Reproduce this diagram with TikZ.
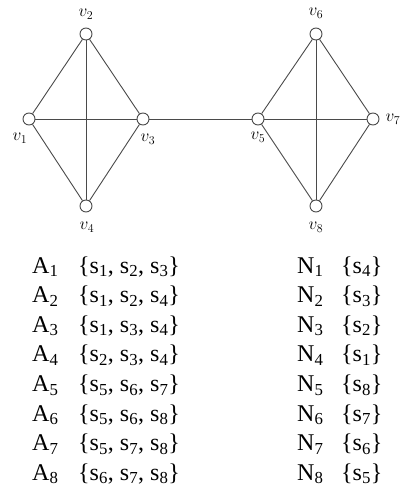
\documentclass[tikz,border=0pt]{standalone}
\usepackage{fontspec}
\setmainfont{Liberation Serif}
\usetikzlibrary{positioning}
\definecolor{edgegray}{HTML}{4A4A4A}

\tikzset{
  vert/.style={circle, draw=edgegray, fill=white, line width=0.9pt, minimum size=12pt, inner sep=0pt},
  vlabel/.style={font=\fontsize{18}{21}\selectfont, inner sep=0pt},
  edge/.style={draw=edgegray, line width=0.9pt},
  rowtext/.style={font=\fontsize{24}{29}\selectfont, anchor=base west, inner sep=0pt},
}

\begin{document}
\begin{tikzpicture}[x=1pt, y=-1pt]
\useasboundingbox (0,0) rectangle (400,497);
% first block
\node[vert] (v1) at (29,119) {};
\node[vert] (v2) at (86,34) {};
\node[vert] (v3) at (143,119) {};
\node[vert] (v4) at (86,206) {};
% second block
\node[vert] (v5) at (258,119) {};
\node[vert] (v6) at (316,34) {};
\node[vert] (v7) at (373,119) {};
\node[vert] (v8) at (316,206) {};
\draw[edge] (v1) -- (v2);
\draw[edge] (v2) -- (v3);
\draw[edge] (v3) -- (v4);
\draw[edge] (v4) -- (v1);
\draw[edge] (v1) -- (v3);
\draw[edge] (v2) -- (v4);
\draw[edge] (v3) -- (v5);
\draw[edge] (v5) -- (v6);
\draw[edge] (v6) -- (v7);
\draw[edge] (v7) -- (v8);
\draw[edge] (v8) -- (v5);
\draw[edge] (v5) -- (v7);
\draw[edge] (v6) -- (v8);
\node[vlabel, xshift=-9pt, yshift=-19pt] (l1) at (v1) {$v_1$};
\node[vlabel, yshift=20pt] (l2) at (v2) {$v_2$};
\node[vlabel, xshift=5pt, yshift=-20pt] (l3) at (v3) {$v_3$};
\node[vlabel, xshift=1pt, yshift=-21pt] (l4) at (v4) {$v_4$};
\node[vlabel, yshift=-18pt] (l5) at (v5) {$v_5$};
\node[vlabel, yshift=21pt] (l6) at (v6) {$v_6$};
\node[vlabel, xshift=20pt] (l7) at (v7) {$v_7$};
\node[vlabel, yshift=-21pt] (l8) at (v8) {$v_8$};
% tables
\foreach \i/\sa/\sn [evaluate=\i as \yb using {273+29.6*(\i-1)}] in
  {1/{1, 2, 3}/4, 2/{1, 2, 4}/3, 3/{1, 3, 4}/2, 4/{2, 3, 4}/1,
   5/{5, 6, 7}/8, 6/{5, 6, 8}/7, 7/{5, 7, 8}/6, 8/{6, 7, 8}/5} {
  \node[rowtext] (a\i) at (32,\yb) {A\textsubscript{\i}};
  \node[rowtext] (sa\i) at (78,\yb) {\{\foreach[count=\k] \j in \sa {\ifnum\k>1, \fi s\textsubscript{\j}}\}};
  \node[rowtext] (n\i) at (297,\yb) {N\textsubscript{\i}};
  \node[rowtext] (sn\i) at (341,\yb) {\{s\textsubscript{\sn}\}};
}
\end{tikzpicture}
\end{document}
